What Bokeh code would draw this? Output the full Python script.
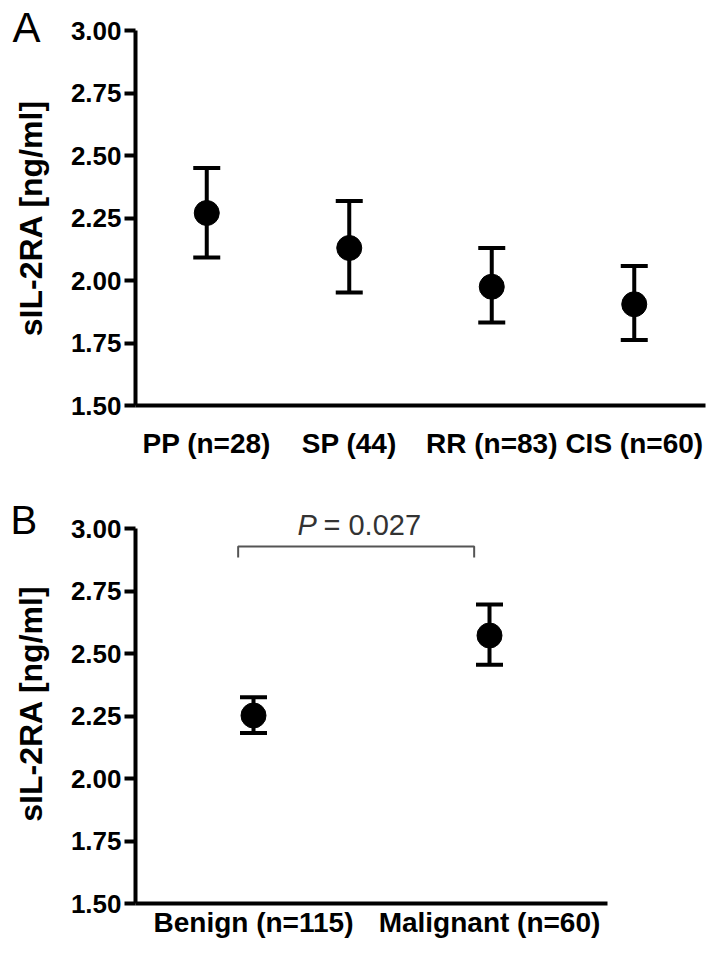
from bokeh.plotting import figure
from bokeh.models import (Range1d, FactorRange, FixedTicker, NumeralTickFormatter,
                          Whisker, TeeHead, ColumnDataSource, Label, Title)
from bokeh.layouts import column
from bokeh.transform import dodge
from bokeh.embed import file_html
from bokeh.resources import INLINE

# ---------------- data ----------------
groups_a = ["PP (n=28)", "SP (44)", "RR (n=83)", "CIS (n=60)"]
mean_a = [2.27, 2.13, 1.975, 1.905]
upper_a = [2.45, 2.318, 2.13, 2.058]
lower_a = [2.092, 1.952, 1.832, 1.762]

groups_b = ["Benign (n=115)", "Malignant (n=60)"]
mean_b = [2.252, 2.572]
upper_b = [2.325, 2.696]
lower_b = [2.182, 2.455]

y_ticks = [1.5, 1.75, 2.0, 2.25, 2.5, 2.75, 3.0]
y_title = "sIL-2RA [ng/ml]"
p_value_text = "= 0.027"
bracket_top = 2.928
bracket_low = 2.884

FONT = "Liberation Sans"


def make_panel(groups, mean, upper, lower, y_top, width, height, border_top,
               border_bottom, border_right, x_standoff):
    p = figure(x_range=FactorRange(factors=groups), y_range=Range1d(1.5, y_top),
               width=width, height=height, output_backend="svg",
               toolbar_location=None, min_border_left=135,
               min_border_top=border_top, min_border_bottom=border_bottom,
               min_border_right=border_right, frame_align=False)
    p.outline_line_color = None
    p.xgrid.visible = False
    p.ygrid.visible = False
    p.background_fill_color = "white"
    p.border_fill_color = "white"

    src = ColumnDataSource(dict(x=groups, m=mean, up=upper, lo=lower))
    w = Whisker(base="x", upper="up", lower="lo", source=src,
                line_width=4, line_color="black",
                upper_head=TeeHead(size=27, line_width=4, line_color="black"),
                lower_head=TeeHead(size=27, line_width=4, line_color="black"))
    p.add_layout(w)
    p.scatter(x="x", y="m", source=src, size=25, fill_color="black",
              line_color="black")

    ya = p.yaxis[0]
    ya.bounds = (y_ticks[0], y_ticks[-1])
    ya.ticker = FixedTicker(ticks=y_ticks)
    ya.formatter = NumeralTickFormatter(format="0.00")
    ya.axis_line_width = 4
    ya.major_tick_line_width = 4
    ya.major_tick_out = 11
    ya.major_tick_in = 0
    ya.minor_tick_line_color = None
    ya.major_label_standoff = 3
    ya.major_label_text_font = FONT
    ya.major_label_text_font_style = "bold"
    ya.major_label_text_font_size = "26px"
    ya.major_label_text_color = "black"
    ya.axis_label = y_title
    ya.axis_label_text_font = FONT
    ya.axis_label_text_font_style = "bold"
    ya.axis_label_text_font_size = "32px"
    ya.axis_label_text_color = "black"
    ya.axis_label_standoff = 19

    xa = p.xaxis[0]
    xa.axis_line_width = 4
    xa.major_tick_line_color = None
    xa.major_tick_out = 0
    xa.major_tick_in = 0
    xa.minor_tick_line_color = None
    xa.major_label_standoff = x_standoff
    xa.major_label_text_font = FONT
    xa.major_label_text_font_style = "bold"
    xa.major_label_text_font_size = "28px"
    xa.major_label_text_color = "black"
    return p


pA = make_panel(groups_a, mean_a, upper_a, lower_a, 3.0, width=710, height=478,
                border_top=30, border_bottom=73, border_right=5, x_standoff=22)
pA.add_layout(Title(text="A", align="left", offset=-123, standoff=-40,
                    vertical_align="bottom", text_font=FONT, text_font_style="normal",
                    text_font_size="42px", text_color="black"), "above")

pB = make_panel(groups_b, mean_b, upper_b, lower_b, 3.1, width=710, height=472,
                border_top=25, border_bottom=47, border_right=103, x_standoff=3)
pB.add_layout(Title(text="B", align="left", offset=-125, standoff=-77,
                    vertical_align="bottom", text_font=FONT, text_font_style="normal",
                    text_font_size="40px", text_color="black"), "above")

# significance bracket
bsrc = ColumnDataSource(dict(x=[groups_b[0], groups_b[0], groups_b[1], groups_b[1]],
                             y=[bracket_low, bracket_top, bracket_top, bracket_low]))
pB.line(x=dodge("x", -0.065, range=pB.x_range), y="y", source=bsrc,
        line_color="#555555", line_width=2)
pB.add_layout(Label(x=162, y=379, x_units="screen", y_units="screen", text="P",
                    text_font=FONT, text_font_style="italic", text_font_size="29px",
                    text_color="#333333", text_baseline="alphabetic", text_align="left"))
pB.add_layout(Label(x=188, y=379, x_units="screen", y_units="screen", text=p_value_text,
                    text_font=FONT, text_font_size="29px",
                    text_color="#333333", text_baseline="alphabetic", text_align="left"))

layout = column(pA, pB, spacing=0)
open("out.html", "w").write(file_html(layout, INLINE))
